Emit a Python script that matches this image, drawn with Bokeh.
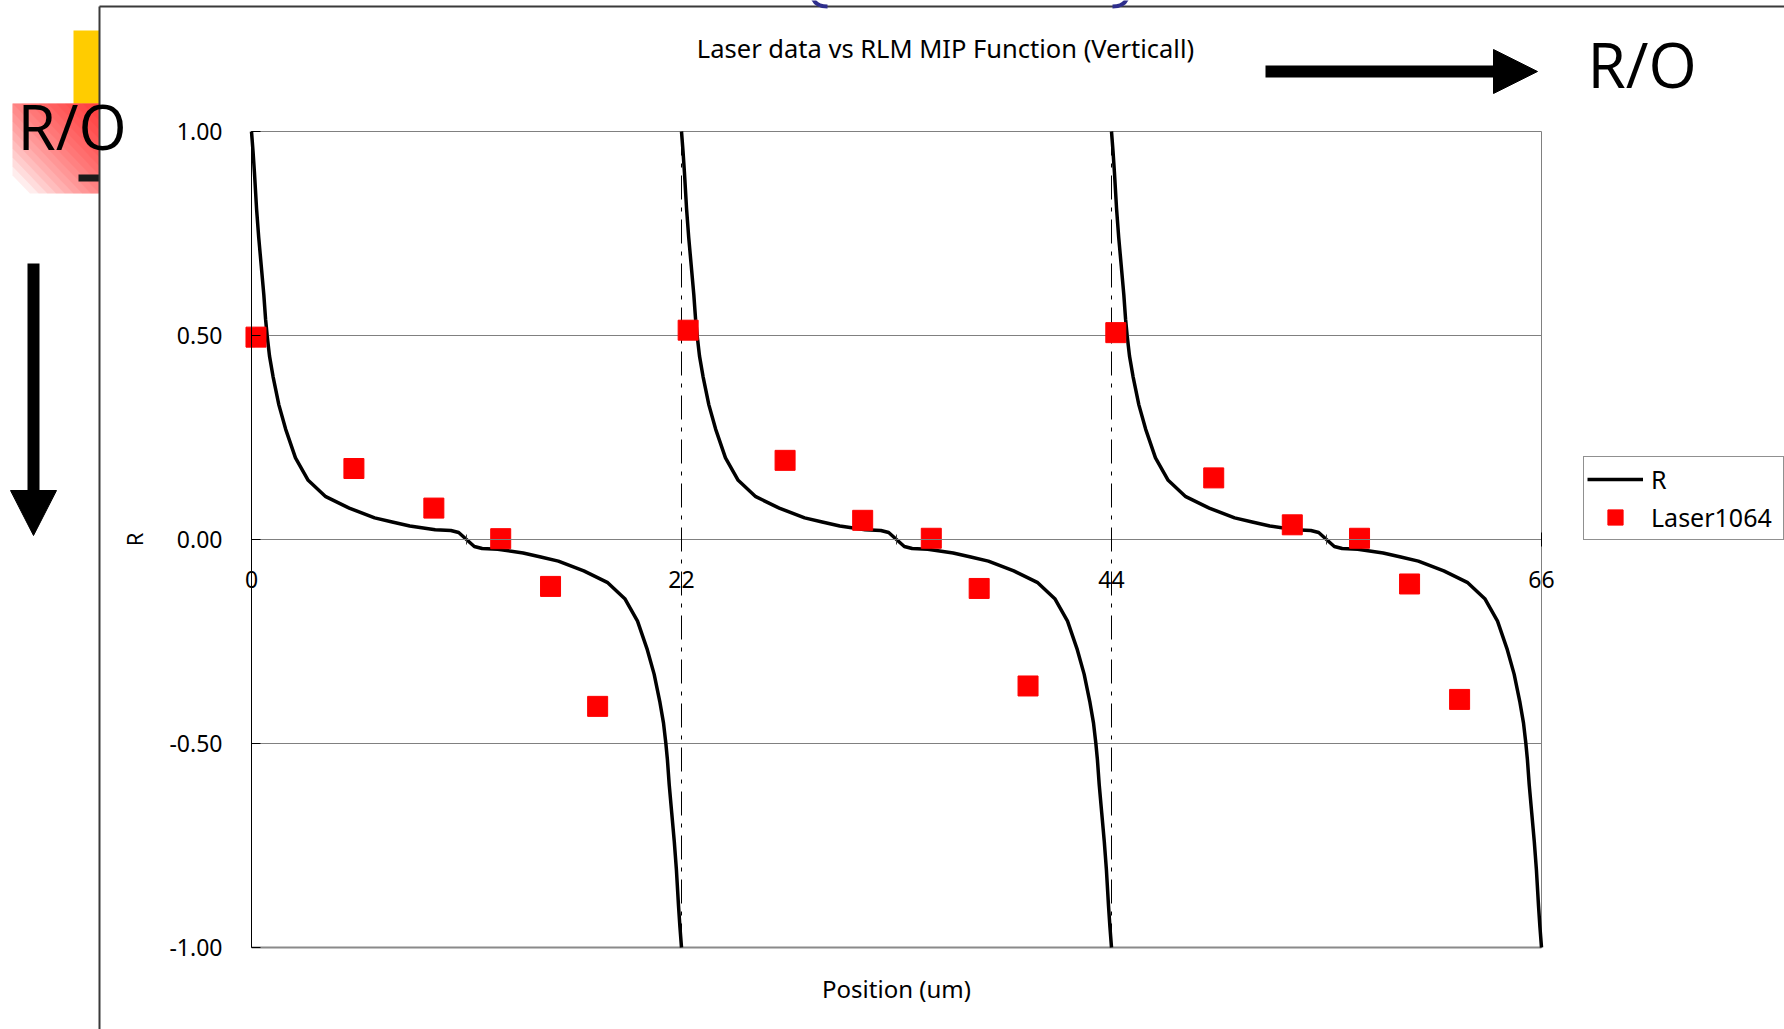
from bokeh.plotting import figure
from bokeh.models import (Range1d, FixedTicker, NumeralTickFormatter, Legend, LegendItem,
                          Label, LinearAxis)
from bokeh.embed import file_html
from bokeh.resources import INLINE

# ---------------- data ----------------
title_text = "Laser data vs RLM MIP Function (Verticall)"
x_label = "Position (um)"
y_label = "R"
slide_label = "R/O"
x_limits = [0, 66]
y_limits = [-1.0, 1.0]
x_ticks = [0, 22, 44, 66]
x_minor_ticks = [11, 33, 55]
y_ticks = [-1.0, -0.5, 0.0, 0.5, 1.0]
y_grid_ticks = [-0.5, 0.0, 0.5]

# R curve, one list of x per period, shared y readings
r_y = [1.0, 0.95, 0.90, 0.81, 0.74, 0.67, 0.60, 0.54, 0.50, 0.45, 0.40, 0.33, 0.27, 0.20,
       0.145, 0.105, 0.077, 0.053, 0.043, 0.033, 0.024, 0.022, 0.017, 0.0,
       -0.017, -0.022, -0.024, -0.033, -0.043, -0.053, -0.077, -0.105, -0.145, -0.20,
       -0.27, -0.33, -0.40, -0.45, -0.50, -0.54, -0.60, -0.67, -0.74, -0.81, -0.90, -0.95, -1.0]
r_x_1 = [0.0, 0.08, 0.15, 0.26, 0.37, 0.5, 0.63, 0.72, 0.8, 0.92, 1.1, 1.4, 1.75, 2.25,
         2.9, 3.8, 5.0, 6.3, 7.2, 8.1, 9.4, 10.2, 10.6, 11.0,
         11.4, 11.8, 12.6, 13.9, 14.8, 15.7, 17.0, 18.2, 19.1, 19.75,
         20.25, 20.6, 20.9, 21.08, 21.2, 21.28, 21.37, 21.5, 21.63, 21.74, 21.85, 21.92, 22.0]
r_x_2 = [22.0, 22.08, 22.15, 22.26, 22.37, 22.5, 22.63, 22.72, 22.8, 22.92, 23.1, 23.4, 23.75, 24.25,
         24.9, 25.8, 27.0, 28.3, 29.2, 30.1, 31.4, 32.2, 32.6, 33.0,
         33.4, 33.8, 34.6, 35.9, 36.8, 37.7, 39.0, 40.2, 41.1, 41.75,
         42.25, 42.6, 42.9, 43.08, 43.2, 43.28, 43.37, 43.5, 43.63, 43.74, 43.85, 43.92, 44.0]
r_x_3 = [44.0, 44.08, 44.15, 44.26, 44.37, 44.5, 44.63, 44.72, 44.8, 44.92, 45.1, 45.4, 45.75, 46.25,
         46.9, 47.8, 49.0, 50.3, 51.2, 52.1, 53.4, 54.2, 54.6, 55.0,
         55.4, 55.8, 56.6, 57.9, 58.8, 59.7, 61.0, 62.2, 63.1, 63.75,
         64.25, 64.6, 64.9, 65.08, 65.2, 65.28, 65.37, 65.5, 65.63, 65.74, 65.85, 65.92, 66.0]

laser_x = [0.23, 5.24, 9.33, 12.75, 15.3, 17.71,
           22.34, 27.3, 31.27, 34.78, 37.23, 39.73,
           44.22, 49.23, 53.25, 56.69, 59.25, 61.81]
laser_y = [0.496, 0.174, 0.077, 0.002, -0.115, -0.409,
           0.513, 0.194, 0.047, 0.003, -0.120, -0.359,
           0.507, 0.151, 0.036, 0.003, -0.109, -0.392]

series_names = ["R", "Laser1064"]

# ---------------- layout (canvas pixels) ----------------
W, H = 1784, 1029
FL, FR, FT, FB = 251, 1541, 131, 947      # where the plot area sits on the page
FONT = "Noto Sans"


def dx(X):
    return x_limits[0] + (X - FL) / (FR - FL) * (x_limits[1] - x_limits[0])


def dy(Y):
    return y_limits[1] - (Y - FT) / (FB - FT) * (y_limits[1] - y_limits[0])


# the frame covers the whole page; the data scales put the plot area where it belongs
p = figure(width=W, height=H, output_backend="svg", toolbar_location=None,
           x_range=Range1d(dx(0), dx(W)), y_range=Range1d(dy(H), dy(0)),
           x_axis_type=None, y_axis_type=None,
           min_border=0, min_border_left=0, min_border_right=0,
           min_border_top=0, min_border_bottom=0)
p.background_fill_color = "white"
p.border_fill_color = "white"
p.outline_line_color = None

# ---------------- slide decorations (behind) ----------------
# yellow bar
p.quad(left=[dx(73)], right=[dx(99)], top=[dy(30)], bottom=[dy(103)],
       fill_color="#FFCC00", line_color=None)
# red fading box: translucent diagonal layers from its top-right corner
GX, GY, GW, GH = 99, 103, 87, 90
N = 18
grad_xs, grad_ys = [], []
for k in range(1, N + 1):
    s = 1.8 * k / N
    if s <= 1:
        pts = [(0, 0), (s, 0), (0, s)]
    else:
        pts = [(0, 0), (1, 0), (1, s - 1), (s - 1, 1), (0, 1)]
    grad_xs.append([dx(GX - u * GW) for u, v in pts])
    grad_ys.append([dy(GY + v * GH) for u, v in pts])
p.patches(xs=grad_xs, ys=grad_ys, fill_color="#FF0000", fill_alpha=0.07, line_color=None)
# small black dash
p.quad(left=[dx(78)], right=[dx(99)], top=[dy(174)], bottom=[dy(181)],
       fill_color="#1a1a1a", line_color=None)
# picture frame of the slide
p.segment(x0=[dx(99), dx(99)], y0=[dy(6), dy(6)], x1=[dx(W + 10), dx(99)], y1=[dy(6), dy(H + 10)],
          line_color="#3a3a3a", line_width=2)
# blue parenthesis ends at the top edge
p.bezier(x0=[dx(812), dx(1127)], y0=[dy(-3), dy(-3)], x1=[dx(827), dx(1112)], y1=[dy(6), dy(6)],
         cx0=[dx(814), dx(1125)], cy0=[dy(3), dy(3)], cx1=[dx(819), dx(1120)], cy1=[dy(6), dy(6)],
         line_color="#2E2E8C", line_width=4)
# arrows
p.segment(x0=[dx(1265), dx(33)], y0=[dy(71), dy(263)], x1=[dx(1495), dx(33)], y1=[dy(71), dy(492)],
          line_color="black", line_width=12, line_cap="butt")
p.patches(xs=[[dx(1493), dx(1537), dx(1493)], [dx(10), dx(56), dx(33)]],
          ys=[[dy(49), dy(71), dy(93)], [dy(490), dy(490), dy(535)]],
          fill_color="black", line_color="black", line_width=1)

# ---------------- plot area ----------------
p.segment(x0=[x_limits[0]] * len(y_grid_ticks), y0=y_grid_ticks,
          x1=[x_limits[1]] * len(y_grid_ticks), y1=y_grid_ticks,
          line_color="#808080", line_width=1)
p.segment(x0=x_ticks[1:-1], y0=[y_limits[0]] * 2, x1=x_ticks[1:-1], y1=[y_limits[1]] * 2,
          line_color="black", line_width=1, line_dash="24 8 4 8")
p.quad(left=[x_limits[0]], right=[x_limits[1]], bottom=[y_limits[0]], top=[y_limits[1]],
       fill_color=None, line_color="#808080", line_width=1)
p.segment(x0=[x_limits[0]], y0=[y_limits[0]], x1=[x_limits[1]], y1=[y_limits[0]],
          line_color="#8a8a8a", line_width=2)

# series
r_line = p.multi_line(xs=[r_x_1, r_x_2, r_x_3], ys=[r_y, r_y, r_y],
                      line_color="black", line_width=3.5)
laser = p.scatter(laser_x, laser_y, marker="square", size=20,
                  fill_color="#FF0000", line_color="#FF0000")

# axes placed on the plot area
ya = LinearAxis(ticker=FixedTicker(ticks=y_ticks), formatter=NumeralTickFormatter(format="0.00"),
                fixed_location=x_limits[0], bounds=(y_limits[0], y_limits[1]))
ya.axis_line_color = "black"
ya.major_tick_line_color = "black"
ya.major_tick_in = 9
ya.major_tick_out = 0
ya.minor_tick_line_color = None
ya.major_label_text_font = FONT
ya.major_label_text_font_size = "23px"
ya.major_label_text_color = "black"
ya.major_label_standoff = 29
ya.axis_label = y_label
ya.axis_label_standoff = 17
ya.axis_label_text_font = FONT
ya.axis_label_text_font_size = "22px"
ya.axis_label_text_font_style = "normal"
ya.axis_label_text_color = "black"
p.add_layout(ya, "left")

xa = LinearAxis(ticker=FixedTicker(ticks=x_ticks, minor_ticks=x_minor_ticks),
                fixed_location=0, bounds=(x_limits[0], x_limits[1]))
xa.axis_line_color = "#808080"
xa.major_tick_line_color = "black"
xa.major_tick_in = 7
xa.major_tick_out = 7
xa.minor_tick_line_color = "#404040"
xa.minor_tick_in = 5
xa.minor_tick_out = 5
xa.major_label_text_font = FONT
xa.major_label_text_font_size = "23px"
xa.major_label_text_color = "black"
xa.major_label_standoff = 24
p.add_layout(xa, "below")

legend = Legend(items=[LegendItem(label=series_names[0], renderers=[r_line]),
                       LegendItem(label=series_names[1], renderers=[laser])],
                location=(1583, H - (458 + 82)),
                glyph_width=56, glyph_height=38, spacing=0, padding=3, margin=0,
                label_standoff=8, label_width=129,
                label_text_font=FONT, label_text_font_size="25px",
                label_text_color="black",
                border_line_color="#222222", border_line_width=1,
                background_fill_color="white", background_fill_alpha=1.0)
p.add_layout(legend)

# chart texts
p.add_layout(Label(x=dx(945), y=dy(47), text=title_text, text_align="center",
                   text_baseline="middle", text_font=FONT, text_font_size="25.5px",
                   text_color="black"))
p.add_layout(Label(x=dx(896), y=dy(988), text=x_label, text_align="center",
                   text_baseline="middle", text_font=FONT, text_font_size="24px",
                   text_color="black"))
# slide "R/O" labels
p.add_layout(Label(x=dx(17), y=dy(125), text=slide_label, text_font="Open Sans",
                   text_font_size="62px", text_color="black", text_baseline="alphabetic"))
p.add_layout(Label(x=dx(1587), y=dy(63), text=slide_label, text_font="Open Sans",
                   text_font_size="62px", text_color="black", text_baseline="alphabetic"))

open("out.html", "w").write(file_html(p, INLINE))
